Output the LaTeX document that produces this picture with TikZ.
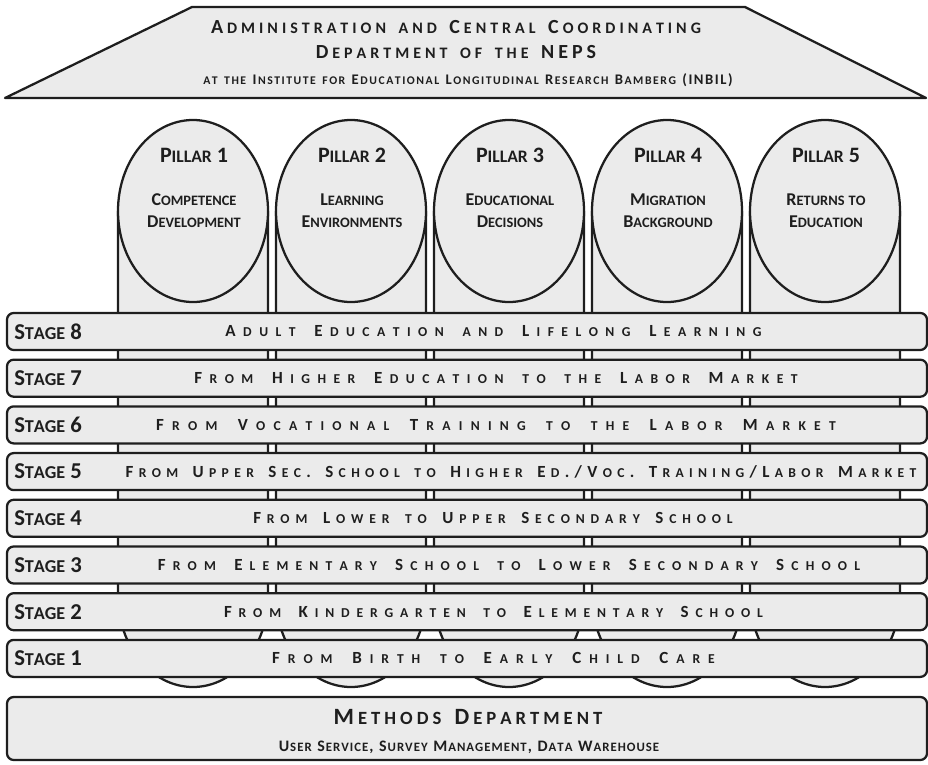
\documentclass[tikz,border=0pt]{standalone}
\usepackage{fontspec}
\setmainfont{Carlito}
\usetikzlibrary{shapes.geometric}
\ExplSyntaxOn
\dim_new:N \l_fsc_track_dim
\cs_new_protected:Npn \fsc_small:
  {
    \fontsize { \fp_eval:n { 0.8 * \use:c { f@size } } } { 0 } \selectfont
  }
\cs_new_protected:Npn \fsc_char:n #1
  {
    \str_if_in:nnTF { abcdefghijklmnopqrstuvwxyz } {#1}
      { { \fsc_small: \tex_uppercase:D {#1} } \tex_kern:D \l_fsc_track_dim }
      { #1 \tex_kern:D \l_fsc_track_dim }
  }
\NewDocumentCommand \fsc { O{0pt} m }
  {
    \dim_set:Nn \l_fsc_track_dim {#1}
    \str_map_inline:nn {#2} { \fsc_char:n {##1} }
    \tex_unkern:D
  }
\ExplSyntaxOff
\definecolor{boxfill}{HTML}{EBEBEB}
\definecolor{ink}{HTML}{1E1E1E}
\begin{document}
\begin{tikzpicture}[x=0.75pt,y=-0.75pt,
  shapeline/.style={draw=ink, line width=1.7pt, fill=boxfill, line join=round},
  stagebox/.style={shapeline, rounded corners=5pt, minimum width=690pt, minimum height=27.75pt, inner sep=0pt},
  stagelabel/.style={anchor=west, inner sep=0pt, text=ink, font=\bfseries\fontsize{17}{19}\selectfont},
  stagetext/.style={inner sep=0pt, text=ink, font=\bfseries\fontsize{12.75}{15}\selectfont},
  pillarhead/.style={inner sep=0pt, text=ink, font=\bfseries\fontsize{16.5}{19}\selectfont},
  pillartext/.style={inner sep=0pt, text=ink, align=center, font=\bfseries\fontsize{13.5}{16.5}\selectfont},
  titletext/.style={inner sep=0pt, text=ink, font=\bfseries\fontsize{15}{18}\selectfont},
  ]
\useasboundingbox (0,0) rectangle (928,764);

% roof
\path[shapeline] (192,7) -- (745,7) -- (926,98) -- (5,98) -- cycle;
\node[titletext] (t1) at (456,27) {\fsc[3pt]{Administration and Central Coordinating}};
\node[titletext] (t2) at (456,52) {\fsc[3pt]{Department of the NEPS}};
\node[inner sep=0pt, text=ink, font=\bfseries\fontsize{11}{13}\selectfont] (t3) at (468,80) {\fsc[1.15pt]{at the Institute for Educational Longitudinal Research Bamberg (INBIL)}};

% pillars
\foreach \i/\cx in {1/193,2/351,3/509,4/667,5/825} {
  \path[shapeline] (\cx-75,211) -- (\cx-75,596)
     arc[start angle=180, end angle=360, x radius=56.25pt, y radius=68.25pt]
     -- (\cx+75,211) -- cycle;
  \node[shapeline, ellipse, minimum width=112.5pt, minimum height=136.5pt, inner sep=0pt] (p\i) at (\cx,211) {};
}
\node[pillarhead] (ph1) at (194,155) {\fsc{Pillar 1}};
\node[pillarhead] (ph2) at (352,155) {\fsc{Pillar 2}};
\node[pillarhead] (ph3) at (510,155) {\fsc{Pillar 3}};
\node[pillarhead] (ph4) at (668,155) {\fsc{Pillar 4}};
\node[pillarhead] (ph5) at (826,155) {\fsc{Pillar 5}};
\node[pillartext] (pt1) at (194,211) {\fsc{Competence}\\\fsc{Development}};
\node[pillartext] (pt2) at (352,211) {\fsc{Learning}\\\fsc{Environments}};
\node[pillartext] (pt3) at (510,211) {\fsc{Educational}\\\fsc{Decisions}};
\node[pillartext] (pt4) at (668,211) {\fsc{Migration}\\\fsc{Background}};
\node[pillartext] (pt5) at (826,211) {\fsc{Returns to}\\\fsc{Education}};

% stages
\node[stagebox] (s8) at (467,331.5) {};
\node[stagebox] (s7) at (467,378.2) {};
\node[stagebox] (s6) at (467,424.9) {};
\node[stagebox] (s5) at (467,471.6) {};
\node[stagebox] (s4) at (467,518.3) {};
\node[stagebox] (s3) at (467,565.0) {};
\node[stagebox] (s2) at (467,611.7) {};
\node[stagebox] (s1) at (467,658.4) {};

\node[stagelabel] (l8) at (14,331.5) {\fsc{Stage 8}};
\node[stagelabel] (l7) at (14,378.2) {\fsc{Stage 7}};
\node[stagelabel] (l6) at (14,424.9) {\fsc{Stage 6}};
\node[stagelabel] (l5) at (14,471.6) {\fsc{Stage 5}};
\node[stagelabel] (l4) at (14,518.3) {\fsc{Stage 4}};
\node[stagelabel] (l3) at (14,565.0) {\fsc{Stage 3}};
\node[stagelabel] (l2) at (14,611.7) {\fsc{Stage 2}};
\node[stagelabel] (l1) at (14,658.4) {\fsc{Stage 1}};

\node[stagetext] (x8) at (493.5,331.5) {\fsc[5.6pt]{Adult Education and Lifelong Learning}};
\node[stagetext] (x7) at (496,378.2) {\fsc[5.6pt]{From Higher Education to the Labor Market}};
\node[stagetext] (x6) at (496,424.9) {\fsc[6.2pt]{From Vocational Training to the Labor Market}};
\node[stagetext] (x5) at (521,471.6) {\fsc[4pt]{From Upper Sec. School to Higher Ed./Voc. Training/Labor Market}};
\node[stagetext] (x4) at (493,518.3) {\fsc[4.4pt]{From Lower to Upper Secondary School}};
\node[stagetext] (x3) at (509,565.0) {\fsc[5.4pt]{From Elementary School to Lower Secondary School}};
\node[stagetext] (x2) at (493.5,611.7) {\fsc[5.14pt]{From Kindergarten to Elementary School}};
\node[stagetext] (x1) at (493.5,658.4) {\fsc[5.97pt]{From Birth to Early Child Care}};

% methods
\node[shapeline, rounded corners=5pt, minimum width=690pt, minimum height=47.25pt, inner sep=0pt] (m) at (467,728.5) {};
\node[inner sep=0pt, text=ink, font=\bfseries\fontsize{17.5}{20}\selectfont] (mt) at (468,717) {\fsc[3pt]{Methods Department}};
\node[inner sep=0pt, text=ink, font=\bfseries\fontsize{12}{14}\selectfont] (ms) at (469,747) {\fsc[0.75pt]{User Service, Survey Management, Data Warehouse}};
\end{tikzpicture}
\end{document}
